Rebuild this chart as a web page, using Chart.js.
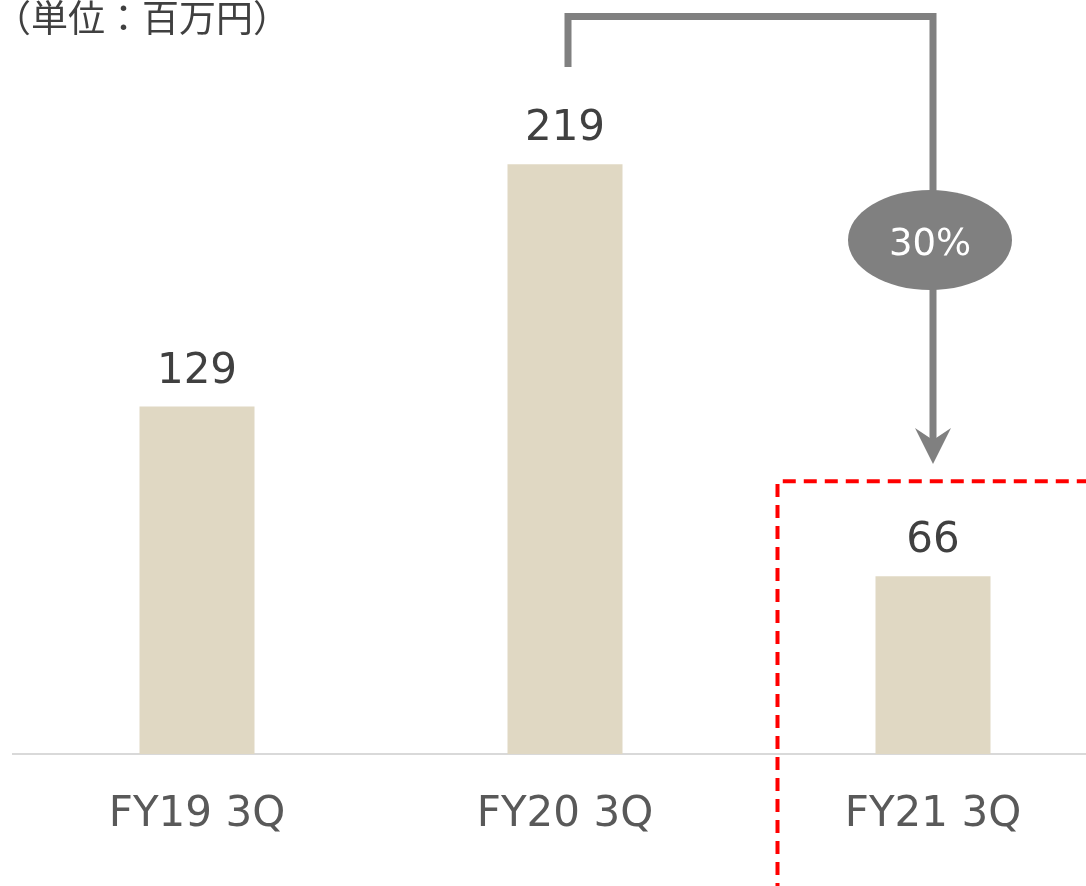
<!DOCTYPE html>
<html><head><meta charset="utf-8">
<script src="https://cdn.jsdelivr.net/npm/chart.js@4.4.0/dist/chart.umd.min.js"></script>
<style>
html,body{margin:0;padding:0;overflow:hidden;background:#fff;width:1086px;height:886px}
#wrap{position:absolute;left:0;top:0;width:1120px;height:886px}
</style>
</head><body><div id="wrap"><canvas id="c" width="1120" height="886"></canvas></div>
<script>
const categories = ['FY19 3Q', 'FY20 3Q', 'FY21 3Q'];
const values = [129, 219, 66];
const unitLabel = '（単位：百万円）';
const changeLabel = '30%';

const LATIN = '"DejaVu Sans", Verdana, sans-serif';
const CJK = '"Noto Sans CJK JP", "Noto Sans", sans-serif';

const overlay = {
  id: 'overlay',
  afterDraw(chart) {
    const ctx = chart.ctx;
    const meta = chart.getDatasetMeta(0);
    const bars = meta.data;
    ctx.save();
    // value labels
    ctx.fillStyle = '#404040';
    ctx.font = '42px ' + LATIN;
    ctx.textAlign = 'center';
    ctx.textBaseline = 'alphabetic';
    bars.forEach((b, i) => ctx.fillText(String(values[i]), b.x, b.y - 24));

    // unit label
    ctx.fillStyle = '#404040';
    ctx.font = '37px ' + CJK;
    ctx.textAlign = 'left';
    ctx.textBaseline = 'middle';
    ctx.fillText(unitLabel, -6, 18);

    const b1 = bars[1], b2 = bars[2];
    // connector
    ctx.strokeStyle = '#808080';
    ctx.lineWidth = 7;
    ctx.lineJoin = 'miter';
    ctx.lineCap = 'butt';
    ctx.beginPath();
    ctx.moveTo(b1.x + 3, 67);
    ctx.lineTo(b1.x + 3, 16.5);
    ctx.lineTo(b2.x, 16.5);
    ctx.lineTo(b2.x, 442);
    ctx.stroke();
    // arrow head
    ctx.fillStyle = '#808080';
    ctx.beginPath();
    ctx.moveTo(b2.x, 464);
    ctx.lineTo(b2.x - 18, 428);
    ctx.lineTo(b2.x, 440);
    ctx.lineTo(b2.x + 18, 428);
    ctx.closePath();
    ctx.fill();
    // ellipse
    ctx.beginPath();
    ctx.ellipse(b2.x - 3, 240, 82, 50, 0, 0, Math.PI * 2);
    ctx.fill();
    ctx.fillStyle = '#ffffff';
    ctx.font = '37px ' + LATIN;
    ctx.textAlign = 'center';
    ctx.textBaseline = 'alphabetic';
    ctx.fillText(changeLabel, b2.x - 3, 255);

    // red dashed highlight box
    ctx.strokeStyle = '#ff0000';
    ctx.lineWidth = 4;
    ctx.setLineDash([13, 8]);
    ctx.beginPath();
    ctx.moveTo(b2.x - 155.5, chart.height + 10);
    ctx.lineTo(b2.x - 155.5, b2.y - 95);
    ctx.lineTo(chart.width + 10, b2.y - 95);
    ctx.stroke();
    ctx.restore();
  }
};

new Chart(document.getElementById('c'), {
  type: 'bar',
  data: {
    labels: categories,
    datasets: [{
      data: values,
      backgroundColor: '#e0d8c3',
      borderWidth: 0,
      barPercentage: 1,
      categoryPercentage: 115 / 368
    }]
  },
  options: {
    responsive: false,
    animation: false,
    devicePixelRatio: 1,
    layout: { padding: { left: 13, right: 3, top: 0, bottom: 0 } },
    plugins: { legend: { display: false }, tooltip: { enabled: false }, title: { display: false } },
    scales: {
      x: {
        grid: { display: false, drawTicks: false },
        border: { display: true, color: '#d9d9d9', width: 2 },
        ticks: { color: '#595959', font: { family: LATIN, size: 42 }, padding: 36 },
        afterFit(s) { s.height = 132; }
      },
      y: { display: false, min: 0, max: 280 }
    }
  },
  plugins: [overlay]
});
</script>
</body></html>
